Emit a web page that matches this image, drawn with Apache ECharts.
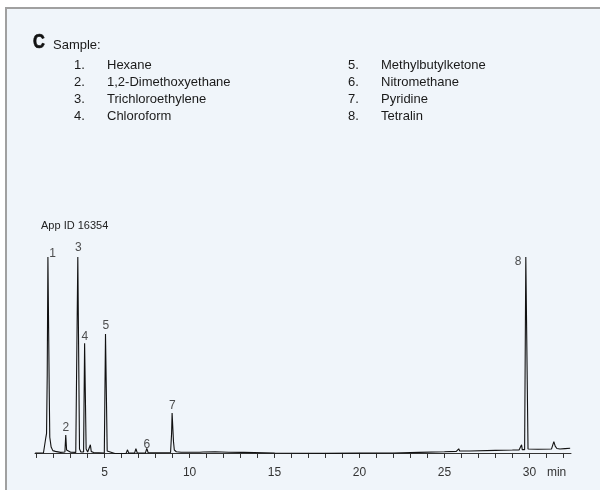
<!DOCTYPE html>
<html>
<head>
<meta charset="utf-8">
<script src="https://cdn.jsdelivr.net/npm/echarts@6/dist/echarts.min.js"></script>
<style>html,body{margin:0;padding:0;background:#fff}#c{width:600px;height:490px}</style>
</head>
<body>
<div id="c"></div>
<script>
// ---- data ----
var time = [0.91,1.4,1.5,1.54,1.58,1.62,1.66,1.70,1.74,1.77,1.85,1.95,2.1,2.4,
  2.66,2.71,2.76,2.82,3.0,3.3,
  3.36,3.42,3.47,3.52,3.6,
  3.76,3.82,3.86,3.91,4.0,
  4.10,4.16,4.21,4.35,
  4.98,5.05,5.10,5.15,5.25,5.6,
  6.26,6.34,6.42,
  6.76,6.84,6.92,
  7.40,7.48,7.56,8.0,
  8.88,8.94,8.97,9.01,9.05,9.10,9.22,9.5,
  10.6,10.7,10.8,11.5,12.3,
  13.05,13.12,13.2,
  15,18,20,22,23.5,25,25.7,
  25.78,25.84,25.9,26.5,28,29,29.4,
  29.5,29.54,29.58,
  29.72,29.79,29.86,29.92,30.0,30.5,31.3,
  31.38,31.44,31.52,31.62,31.8,32.1,32.4];
var signal = [0,0.1,0.5,8,10,40,100,100,30,8,3,1.2,0.8,0.3,
  0.5,9.2,1.5,0.6,0.4,0.3,
  0.3,100,100,2,0.5,
  0.5,56,56,2,0.5,
  0.4,4.2,0.8,0.2,
  0,60.7,60.7,1,0,-0.3,
  -0.2,1.6,-0.1,
  -0.1,2.2,0,
  0,2.3,0.1,0.1,
  0.2,10,20.4,20.4,6,1.5,0.6,0.4,
  0.4,1.1,0.5,0.6,0.4,
  0.3,1.0,0.3,
  0,-0.2,-0.1,0,0.3,0.6,0.8,
  0.8,2.1,1.0,1.0,1.3,1.5,1.6,
  1.6,4.2,1.7,
  1.7,100,100,2,1.8,1.9,2.0,
  2.1,5.8,3.5,2.3,2.0,2.2,2.4];
var peakNames = ['1','2','3','4','5','6','7','8'];
var peakTimes = [1.68,2.71,3.445,3.84,5.075,7.48,8.99,29.825];
var peakHeights = [100,9.2,100,56,60.7,2.3,20.4,100];
var xTickLabels = [5,10,15,20,25,30];
var xUnit = 'min';
var sampleNames = ['Hexane','1,2-Dimethoxyethane','Trichloroethylene','Chloroform',
  'Methylbutylketone','Nitromethane','Pyridine','Tetralin'];
var appId = 'App ID 16354';

// ---- build ----
var lineData = time.map(function(t,i){return [t, signal[i]];});
var labelStyles = [
  {position:'right', distance:1, offset:[0,-3]},
  {position:'top', distance:1},
  {position:'top', distance:3},
  {position:'top', distance:1},
  {position:'top', distance:2},
  {position:'top', distance:-2},
  {position:'top', distance:1},
  {position:'left', distance:5, offset:[0,5]}
];
var peakData = peakTimes.map(function(t,i){
  return {value:[t, peakHeights[i]], name:peakNames[i], label:Object.assign({show:true, formatter:'{b}'}, labelStyles[i])};
});
var allTicks = [];
for (var k = 1; k <= 32; k++) allTicks.push(k);
var unitPos = 31.6;

var sans = '"Liberation Sans",Arial,Helvetica,sans-serif';
var graphics = [
  {type:'rect', z:-10, shape:{x:6,y:8,width:620,height:500}, style:{fill:'#f0f5fa', stroke:'#a0a0a0', lineWidth:2}},
  {type:'text', x:33, y:42, scaleX:0.78, style:{x:0,y:0,text:'C',fontFamily:sans,fontSize:21,fontWeight:'bold',
    fill:'#111',stroke:'#111',lineWidth:0.7,textVerticalAlign:'middle'}},
  {type:'text', style:{x:53,y:45,text:'Sample:',font:'13px '+sans,fill:'#1a1a1a',textVerticalAlign:'middle'}},
  {type:'text', style:{x:41,y:226,text:appId,font:'11px '+sans,fill:'#222',textVerticalAlign:'middle'}}
];
sampleNames.forEach(function(n,i){
  var col = Math.floor(i/4), row = i%4;
  var y = 65 + row*17.3;
  graphics.push({type:'text', style:{x: col? 348:74, y:y, text:(i+1)+'.', font:'13px '+sans, fill:'#1a1a1a', textVerticalAlign:'middle'}});
  graphics.push({type:'text', style:{x: col? 381:107, y:y, text:n, font:'13px '+sans, fill:'#1a1a1a', textVerticalAlign:'middle'}});
});

var chart = echarts.init(document.getElementById('c'), null, {renderer:'canvas'});
chart.setOption({
  backgroundColor:'#ffffff',
  animation:false,
  graphic:graphics,
  grid:{left:35, right:29, top:257, bottom:29, containLabel:false},
  xAxis:{
    type:'value', min:0.9, max:32.45,
    splitLine:{show:false},
    axisLine:{lineStyle:{color:'#333', width:1}},
    axisTick:{show:true, length:5, inside:false, customValues:allTicks, lineStyle:{color:'#333'}},
    axisLabel:{customValues:xTickLabels.concat([unitPos]), margin:6, color:'#333',
      fontFamily:sans, fontSize:12,
      formatter:function(v){return v===unitPos? xUnit : String(v);}}
  },
  yAxis:{type:'value', min:-4.1, max:100, show:false, splitLine:{show:false}},
  series:[
    {type:'line', data:lineData, symbol:'none', clip:false,
     lineStyle:{color:'#111', width:1.1}, z:3},
    {type:'scatter', data:peakData, symbolSize:0, clip:false,
     label:{show:true, color:'#222', fontSize:12, fontFamily:sans}, z:4, silent:true}
  ]
});
</script>
</body>
</html>
